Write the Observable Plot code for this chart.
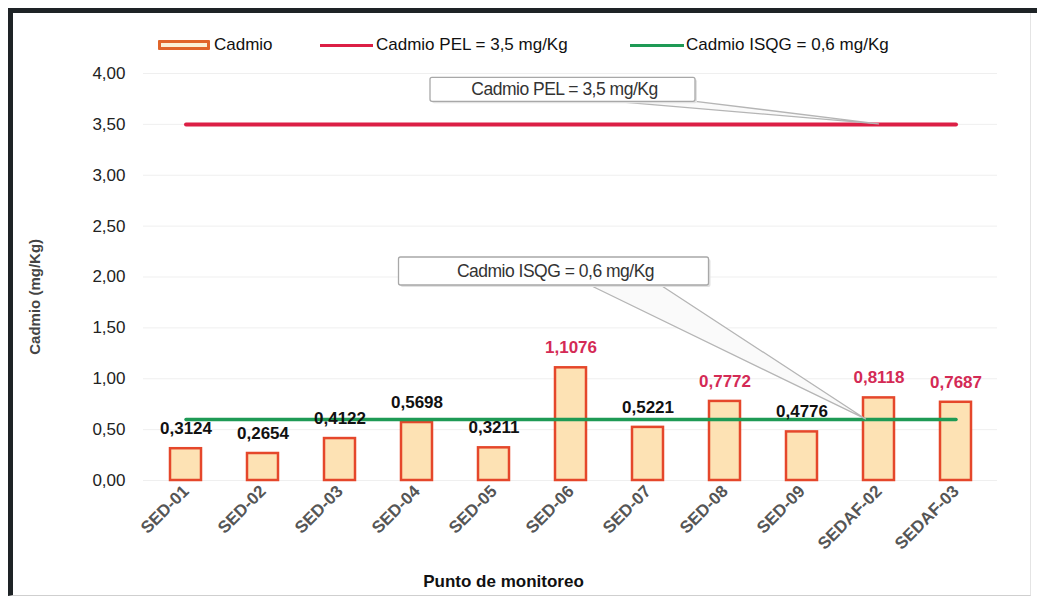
<!DOCTYPE html>
<html><head><meta charset="utf-8">
<script src="https://cdn.jsdelivr.net/npm/d3@7"></script>
<script src="https://cdn.jsdelivr.net/npm/@observablehq/plot@0.6"></script>
<style>
html,body{margin:0;background:#fff;font-family:"Liberation Sans",Arial,sans-serif;overflow:hidden;width:1037px;height:597px;}
#wrap{position:relative;width:1037px;height:597px;overflow:hidden;background:#fff;}
#frame{position:absolute;left:8px;top:8px;width:1023px;height:588px;border-top:5px solid #1e2326;border-left:5px solid #1e2326;border-right:1px solid #e4e4e4;border-bottom:1px solid #cfcfcf;box-sizing:border-box;}
#topext{position:absolute;left:1030px;top:8px;width:7px;height:5px;background:#1e2326;}
.leg{position:absolute;top:34px;font-size:17px;color:#111;white-space:nowrap;line-height:22px;}
.sw{position:absolute;}
#chart{position:absolute;left:0;top:60px;}
</style></head>
<body>
<div id="wrap">
  <div id="frame"></div>
  <div id="topext"></div>
  <div class="sw" style="left:158px;top:40px;width:52px;height:10px;border:3px solid #e0652a;background:#fbf1d6;box-sizing:border-box;border-radius:1px;"></div>
  <div class="leg" style="left:214px;">Cadmio</div>
  <div class="sw" style="left:320px;top:44px;width:53px;height:3px;background:#dc1f45;"></div>
  <div class="leg" style="left:376px;">Cadmio PEL = 3,5 mg/Kg</div>
  <div class="sw" style="left:630px;top:44px;width:54px;height:3px;background:#1e9a55;"></div>
  <div class="leg" style="left:686px;">Cadmio ISQG = 0,6 mg/Kg</div>
  <div id="chart"></div>
</div>
<script>
const sites = ["SED-01","SED-02","SED-03","SED-04","SED-05","SED-06","SED-07","SED-08","SED-09","SEDAF-02","SEDAF-03"];
const cadmio = [0.3124, 0.2654, 0.4122, 0.5698, 0.3211, 1.1076, 0.5221, 0.7772, 0.4776, 0.8118, 0.7687];
const PEL = 3.5;
const ISQG = 0.6;
const yTicks = [0, 0.5, 1, 1.5, 2, 2.5, 3, 3.5, 4];
const pelLabel = "Cadmio PEL = 3,5 mg/Kg";
const isqgLabel = "Cadmio ISQG = 0,6 mg/Kg";
const xTitle = "Punto de monitoreo";
const yTitle = "Cadmio (mg/Kg)";

const rows = sites.map((s, i) => ({site: s, value: cadmio[i]}));
const fmt4 = v => d3.format(".4f")(v).replace(".", ",");
const fmt2 = v => d3.format(".2f")(v).replace(".", ",");
const RED = "#d42a55";

const chart = Plot.plot({
  width: 1037, height: 537,
  marginTop: 13, marginBottom: 117, marginLeft: 143, marginRight: 40,
  style: {fontFamily: "Liberation Sans, Arial, sans-serif", background: "transparent", overflow: "hidden"},
  x: {domain: sites, paddingInner: 0.6, paddingOuter: 0.3, label: null},
  y: {domain: [0, 4], label: null},
  marks: [
    Plot.ruleY(yTicks, {stroke: "#efefef", strokeWidth: 1}),
    Plot.barY(rows, {x: "site", y: "value", fill: "#fde2b4", stroke: "#e5472b", strokeWidth: 2.5}),
    Plot.lineY(sites, {x: d => d, y: () => PEL, stroke: "#dc1f45", strokeWidth: 4}),
    Plot.lineY(sites, {x: d => d, y: () => ISQG, stroke: "#1e9a55", strokeWidth: 3.5}),
    Plot.text(rows, {x: "site", y: "value", text: d => fmt4(d.value), dy: -20,
      fill: d => d.value > ISQG ? RED : "#111", fontWeight: "bold", fontSize: 17}),
    Plot.axisY({ticks: yTicks, tickFormat: fmt2, tickSize: 0, tickPadding: 18, fontSize: 17, color: "#222", label: null}),
    Plot.axisX({tickRotate: -45, tickSize: 0, tickPadding: 8, fontSize: 17, color: "#555", label: null}),
    Plot.text([xTitle], {frameAnchor: "bottom", dy: 106, dx: -67, fontSize: 17, fontWeight: "bold", fill: "#111"})
  ]
});
document.getElementById("chart").appendChild(chart);

const svg = d3.select(chart);
svg.selectAll('[aria-label="x-axis tick label"] text').attr("font-weight", "bold");

const xs = chart.scale("x"), ys = chart.scale("y");
const cx = c => xs.apply(c) + xs.bandwidth / 2;
const cy = v => ys.apply(v);

// y-axis title
svg.append("text").attr("transform", `translate(35,${cy(1.8)}) rotate(-90)`)
  .attr("text-anchor", "middle").attr("dy", "0.35em")
  .attr("font-size", 15).attr("font-weight", "bold").attr("fill", "#444").text(yTitle);

// callouts anchored to data
const callouts = [
  {text: pelLabel, anchor: "SED-06", dx: -8, value: PEL + 0.34, w: 265, h: 24, target: "SEDAF-02", tdx: 0, tv: PEL, legs: [0.65, 0.97]},
  {text: isqgLabel, anchor: "SED-06", dx: -17, value: 2.054, w: 310, h: 28, target: "SEDAF-02", tdx: -13, tv: ISQG, legs: [0.61, 0.84]}
];
const g = svg.append("g");
callouts.forEach(c => {
  const mx = cx(c.anchor) + c.dx, my = cy(c.value);
  const bx = mx - c.w / 2, by = my - c.h / 2;
  const tx = cx(c.target) + c.tdx, ty = cy(c.tv);
  g.append("polygon")
    .attr("points", [[bx + c.w * c.legs[0], by + c.h - 1], [tx, ty], [bx + c.w * c.legs[1], by + c.h - 1]].map(p => p.join(",")).join(" "))
    .attr("fill", "#fafafa").attr("stroke", "#b5b5b5").attr("stroke-width", 1.3).attr("stroke-linejoin", "round");
  g.append("rect").attr("x", bx + 2).attr("y", by + 2).attr("width", c.w).attr("height", c.h).attr("rx", 2).attr("fill", "#e2e2e2");
  g.append("rect").attr("x", bx).attr("y", by).attr("width", c.w).attr("height", c.h).attr("rx", 2)
    .attr("fill", "#fff").attr("stroke", "#a8a8a8").attr("stroke-width", 1.3);
  g.append("text").attr("x", mx + 2).attr("y", my).attr("dy", "0.35em").attr("text-anchor", "middle")
    .attr("font-size", 17.5).attr("fill", "#333").attr("letter-spacing", "-0.5px").text(c.text);
});
</script>
</body></html>
